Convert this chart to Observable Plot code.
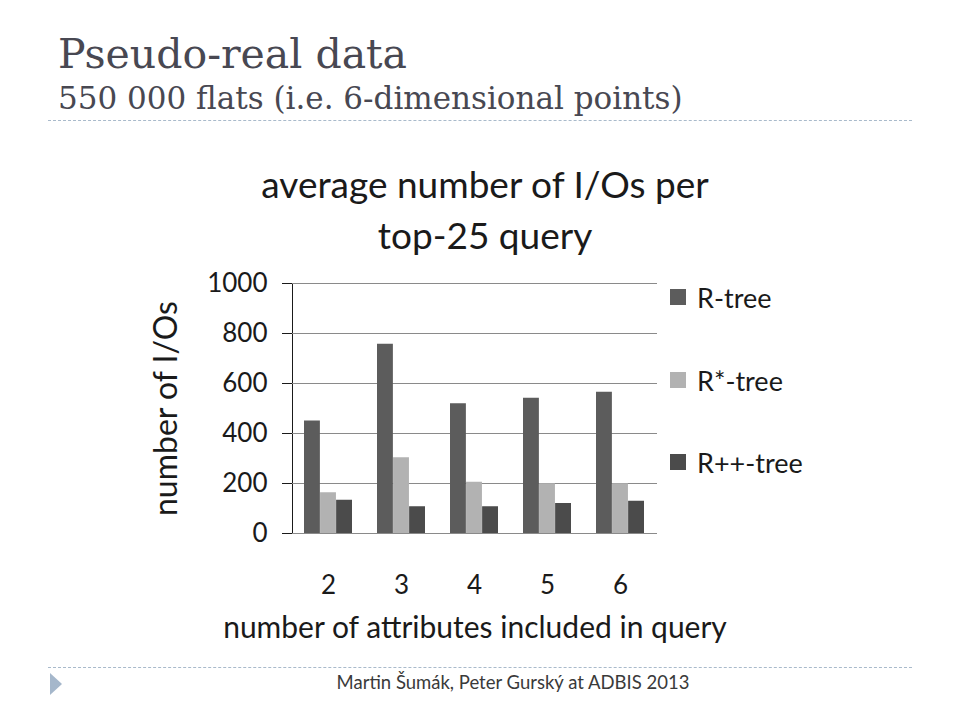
<!DOCTYPE html>
<html>
<head>
<meta charset="utf-8">
<script src="https://cdn.jsdelivr.net/npm/d3@7"></script>
<script src="https://cdn.jsdelivr.net/npm/@observablehq/plot@0.6"></script>
<style>
  html, body { margin: 0; padding: 0; background: #fff; }
  #page { position: relative; width: 960px; height: 720px; overflow: hidden; background: #fff; }
  .title { position: absolute; left: 58px; top: 34px; font-family: "DejaVu Serif", serif; font-size: 41px; color: #484852; white-space: nowrap; line-height: 1; }
  .subtitle { position: absolute; left: 58px; top: 83px; font-family: "DejaVu Serif", serif; font-size: 31px; color: #484852; white-space: nowrap; line-height: 1; }
  .rule { position: absolute; left: 48px; width: 864px; height: 0; border-top: 1px dashed #a9bacb; }
  #chart { position: absolute; left: 0; top: 130px; }
  #legend { position: absolute; left: 670px; top: 0; font-family: Lato, sans-serif; font-size: 27px; color: #1a1a1a; }
  .item { position: absolute; left: 0; display: flex; align-items: center; white-space: nowrap; height: 30px; }
  .sw { width: 16px; height: 16px; margin-right: 11px; }
  .footer { position: absolute; left: 0; width: 1026px; text-align: center; top: 671px; font-family: Lato, sans-serif; font-size: 18.5px; color: #3a3a3a; }
  .tri { position: absolute; left: 50px; top: 673px; width: 0; height: 0; border-top: 11px solid transparent; border-bottom: 11px solid transparent; border-left: 12px solid #a5b7cb; }
</style>
</head>
<body>
<div id="page">
  <div class="title">Pseudo-real data</div>
  <div class="subtitle">550 000 flats (i.e. 6-dimensional points)</div>
  <div class="rule" style="top:120px"></div>
  <div id="chart"></div>
  <div id="legend"></div>
  <div class="rule" style="top:667px"></div>
  <div class="tri"></div>
  <div class="footer">Martin Šumák, Peter Gurský at ADBIS 2013</div>
</div>
<script>
// ---- data ----
const attributes = ["2", "3", "4", "5", "6"];
const seriesNames = ["R-tree", "R*-tree", "R++-tree"];
const rTree = [450, 757, 519, 541, 565];
const rStarTree = [163, 303, 205, 199, 199];
const rPlusPlusTree = [133, 107, 107, 120, 129];
const yTicks = [0, 200, 400, 600, 800, 1000];
const seriesColors = ["#5c5c5c", "#b2b2b2", "#4b4b4b"];
const chartTitle = "average number of I/Os per\ntop-25 query";
const xLabel = "number of attributes included in query";
const yLabel = "number of I/Os";

const seriesValues = [rTree, rStarTree, rPlusPlusTree];
const table = seriesNames.map((s, si) =>
  attributes.map((a, i) => ({attr: a, series: s, value: seriesValues[si][i]}))
);

// ---- layout ----
const W = 960, H = 520, mL = 292, mR = 303, mT = 153, mB = 117;
const padIn = 0.34, padOut = 0.17;
const step = (W - mL - mR) / (attributes.length - padIn + 2 * padOut);
const bw = step * (1 - padIn);
const barW = bw / seriesNames.length;

const bars = table.map((rows, si) =>
  Plot.barY(rows, {
    x: "attr", y: "value", fill: seriesColors[si],
    insetLeft: barW * si, insetRight: barW * (seriesNames.length - 1 - si)
  })
);

const chart = Plot.plot({
  width: W, height: H,
  marginLeft: mL, marginRight: mR, marginTop: mT, marginBottom: mB,
  style: {fontFamily: "Lato, sans-serif", fontSize: "26px", color: "#1a1a1a", background: "transparent"},
  x: {domain: attributes, paddingInner: padIn, paddingOuter: padOut, label: null, tickSize: 0, tickPadding: 42},
  y: {domain: [0, 1000], ticks: yTicks, tickFormat: d3.format("d"), label: null, tickSize: 10, tickPadding: 15, line: true},
  marks: [
    Plot.gridY(yTicks, {stroke: "#8a8a8a", strokeOpacity: 1, strokeWidth: 1}),
    ...bars,
    Plot.text([chartTitle], {text: d => d, frameAnchor: "top", dx: 10, dy: -121, lineAnchor: "top", lineHeight: 1.36, fontSize: 37}),
    Plot.text([xLabel], {text: d => d, frameAnchor: "bottom", dy: 104, fontSize: 30}),
    Plot.text([yLabel], {text: d => d, frameAnchor: "left", textAnchor: "middle", dx: -126, rotate: -90, fontSize: 32})
  ]
});
document.getElementById("chart").appendChild(chart);

// ---- legend ----
const legend = document.getElementById("legend");
const legendY = [297, 380, 462];
seriesNames.forEach((s, i) => {
  const item = document.createElement("div");
  item.className = "item";
  item.style.top = (legendY[i] - 15) + "px";
  const sw = document.createElement("div");
  sw.className = "sw";
  sw.style.background = seriesColors[i];
  const label = document.createElement("span");
  label.textContent = s;
  item.appendChild(sw);
  item.appendChild(label);
  legend.appendChild(item);
});
</script>
</body>
</html>
